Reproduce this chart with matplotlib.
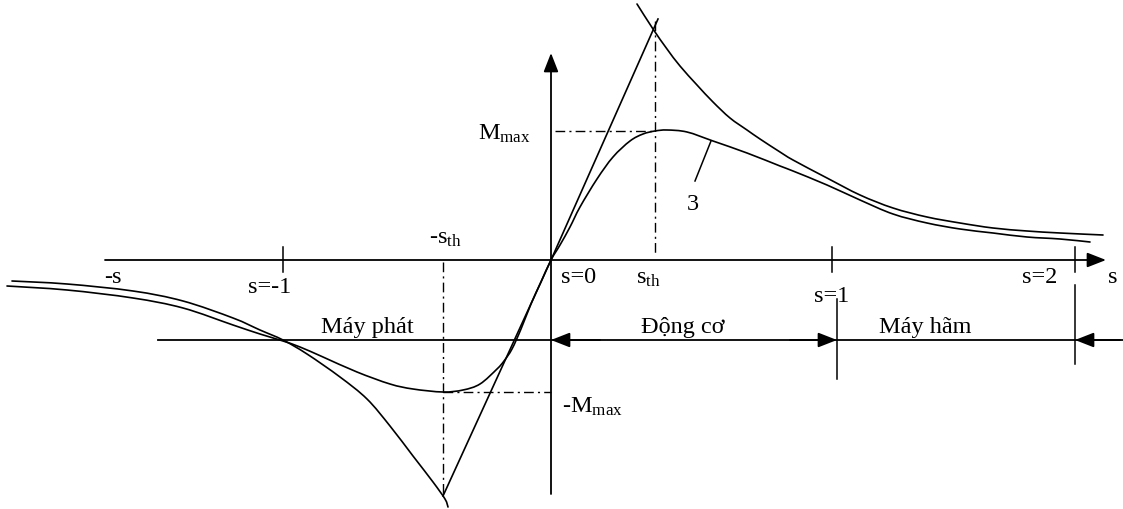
import matplotlib.pyplot as plt
from matplotlib.path import Path
from matplotlib.patches import PathPatch

plt.rcParams['font.family'] = ['Liberation Serif', 'DejaVu Serif']
plt.rcParams['mathtext.fontset'] = 'custom'
plt.rcParams['mathtext.rm'] = 'Liberation Serif'
plt.rcParams['mathtext.it'] = 'Liberation Serif:italic'

# Diagram units: x grows to the right, y grows downwards (0..1123, 0..510)
origin = (551, 261)

# Torque-slip curve (3), generator side then motor side
curve3_x = [7, 67, 133, 183, 233, 260, 283, 300, 323, 357, 390, 413, 443,
            463, 480, 497, 504, 512, 521, 531, 541, 551,
            560, 570, 580, 597, 613, 630, 643, 655, 667, 687, 713, 747, 780,
            793, 827, 860, 893, 927, 960, 993, 1027, 1060, 1090]
curve3_y = [287, 291, 299, 309, 326, 335, 342, 348, 358, 373, 385, 390, 393,
            391, 385, 370, 362, 350, 330, 305, 283, 261,
            246, 228, 208, 180, 158, 142, 135, 132, 131, 133, 142, 154, 167,
            172, 186, 201, 215, 224, 230, 234, 238, 240, 243]

# Approximating hyperbolas beyond the breakdown slip
hyp_left_x = [12, 67, 133, 183, 233, 260, 283, 307, 340, 367, 390, 413, 433, 445, 448]
hyp_left_y = [282, 285, 292, 302, 319, 331, 341, 355, 378, 400, 427, 457, 483, 500, 508]
hyp_right_x = [637, 653, 667, 680, 697, 713, 730, 747, 760, 780, 793, 827, 860, 893,
               927, 960, 993, 1027, 1060, 1103]
hyp_right_y = [5, 30, 50, 67, 86, 103, 119, 131, 140, 153, 161, 179, 196, 209,
               218, 224, 229, 232, 234, 236]

# Linear approximation through the origin
tangent_x = [443, 551, 658]
tangent_y = [497, 261, 20]

# Breakdown points (s_th, M_max) and (-s_th, -M_max)
s_th_x, m_max_y = 655, 132
neg_s_th_x, neg_m_max_y = 443, 393

# Slip ticks on the s axis
tick_x = [283, 832, 1075]

# Operating regions line
region_y = 341
region_bounds = [551, 837, 1075]

fig = plt.figure(figsize=(11.23, 5.10), dpi=100)
ax = fig.add_axes([0, 0, 1, 1])
ax.set_xlim(0, 1123)
ax.set_ylim(510, 0)
ax.axis('off')

lw = 1.3
k = 'black'


def arrow(tail, tip):
    ax.annotate('', xy=tip, xytext=tail,
                arrowprops=dict(arrowstyle='-|>,head_length=1.15,head_width=0.45',
                                mutation_scale=10, color=k, lw=lw,
                                shrinkA=0, shrinkB=0))


def smooth(xs, ys):
    # Catmull-Rom through the given points, drawn as cubic Bezier segments
    pts = list(zip(xs, ys))
    verts = [pts[0]]
    codes = [Path.MOVETO]
    n = len(pts)
    for i in range(n - 1):
        p0 = pts[max(i - 1, 0)]
        p1 = pts[i]
        p2 = pts[i + 1]
        p3 = pts[min(i + 2, n - 1)]
        c1 = (p1[0] + (p2[0] - p0[0]) / 6, p1[1] + (p2[1] - p0[1]) / 6)
        c2 = (p2[0] - (p3[0] - p1[0]) / 6, p2[1] - (p3[1] - p1[1]) / 6)
        verts += [c1, c2, p2]
        codes += [Path.CURVE4] * 3
    ax.add_patch(PathPatch(Path(verts, codes), fill=False, ec=k, lw=1.2,
                           capstyle='round', joinstyle='round'))


# axes
arrow((105, origin[1]), (1106, origin[1]))
arrow((origin[0], 495), (origin[0], 54))

for tx in tick_x:
    ax.plot([tx, tx], [248, 273], color=k, lw=1.1)

# curves
smooth(curve3_x, curve3_y)
smooth(hyp_left_x, hyp_left_y)
smooth(hyp_right_x, hyp_right_y)
ax.plot(tangent_x, tangent_y, color=k, lw=1.2)

# dash-dot construction lines
dd = (0, (7, 3, 1.5, 3))
ax.plot([s_th_x, s_th_x], [22, 255], color=k, lw=1.0, ls=dd)
ax.plot([origin[0] + 4, s_th_x], [m_max_y, m_max_y], color=k, lw=1.0, ls=dd)
ax.plot([neg_s_th_x, neg_s_th_x], [263, 497], color=k, lw=1.0, ls=dd)
ax.plot([neg_s_th_x, origin[0]], [neg_m_max_y, neg_m_max_y], color=k, lw=1.0, ls=dd)

# regions
ax.plot([158, 1123], [region_y, region_y], color=k, lw=lw)
arrow((600, region_y), (region_bounds[0], region_y))
arrow((790, region_y), (region_bounds[1], region_y))
arrow((1120, region_y), (region_bounds[2], region_y))
ax.plot([region_bounds[1], region_bounds[1]], [300, 380], color=k, lw=1.1)
ax.plot([region_bounds[2], region_bounds[2]], [286, 365], color=k, lw=1.1)

# pointer for curve 3
ax.plot([711, 695], [142, 182], color=k, lw=1.1)

fs = 17.5
txt = dict(fontsize=fs, color=k)
ax.text(104, 283, '-s', ha='left', va='baseline', **txt)
ax.text(270, 293, 's=-1', ha='center', va='baseline', **txt)
ax.text(445, 244, r'-s$_{\rm th}$', ha='center', va='baseline', **txt)
ax.text(561, 283, 's=0', ha='left', va='baseline', **txt)
ax.text(648, 284, r's$_{\rm th}$', ha='center', va='baseline', **txt)
ax.text(832, 302, 's=1', ha='center', va='baseline', **txt)
ax.text(1040, 283, 's=2', ha='center', va='baseline', **txt)
ax.text(1108, 283, 's', ha='left', va='baseline', **txt)
ax.text(478, 140, r'M$_{\rm max}$', ha='left', va='baseline', **txt)
ax.text(562, 413, r'-M$_{\rm max}$', ha='left', va='baseline', **txt)
ax.text(693, 210, '3', ha='center', va='baseline', **txt)
ax.text(367, 333, 'Máy phát', ha='center', va='baseline', **txt)
ax.text(683, 333, 'Động cơ', ha='center', va='baseline', **txt)
ax.text(925, 333, 'Máy hãm', ha='center', va='baseline', **txt)

fig.savefig('out.png', dpi=100)
